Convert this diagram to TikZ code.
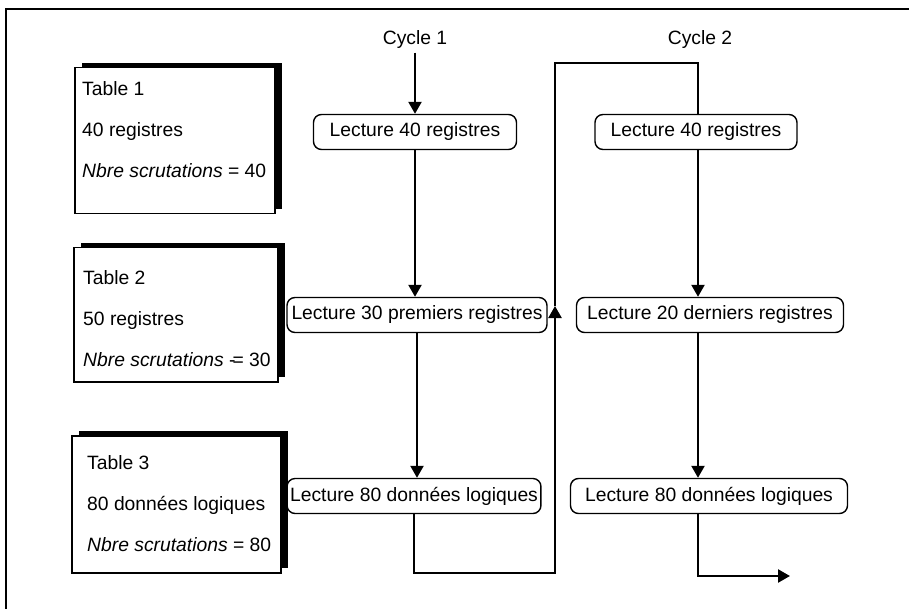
\documentclass[tikz,border=0pt]{standalone}
\usepackage{fontspec}
\setmainfont{Liberation Sans}
\usetikzlibrary{positioning,shadows,arrows.meta}
\tikzstyle{tabbox}=[draw,line width=1.5pt,fill=white,inner sep=0pt,
  drop shadow={shadow xshift=7pt,shadow yshift=5pt,fill=black,opacity=1}]
\tikzstyle{tabtext}=[align=left,inner sep=0pt]
\tikzstyle{lecture}=[draw,rounded corners=8pt,line width=1.4pt,minimum height=35pt,inner xsep=3pt]
\tikzstyle{flow}=[line width=2.3pt,-{Triangle[length=12pt,width=13pt]}]
\tikzstyle{wire}=[line width=2.3pt]

\begin{document}
\begin{tikzpicture}[x=1pt,y=-1pt,every node/.style={font=\fontsize{19.3}{41}\selectfont}]
      \useasboundingbox (0,0) rectangle (909,609);
      \draw[line width=1.8pt] (6,609) -- (6,9) -- (909,9);

      % tables on the left
      \node[tabbox,anchor=north west,minimum width=200pt,minimum height=146pt] (tab1) at (74,67) {};
      \node[tabbox,anchor=north west,minimum width=204pt,minimum height=134pt] (tab2) at (73,247) {};
      \node[tabbox,anchor=north west,minimum width=209pt,minimum height=137pt] (tab3) at (71,435) {};
      \node[tabtext,below right=14pt and 8pt of tab1.north west] (txt1) {Table 1\\40 registres\\\textit{Nbre scrutations} = 40};
      \node[tabtext,below right=23pt and 10pt of tab2.north west] (txt2) {Table 2\\50 registres\\\textit{Nbre scrutations} {-}\kern-3pt{=} 30};
      \node[tabtext,below right=20pt and 16pt of tab3.north west] (txt3) {Table 3\\80 donn\'ees logiques\\\textit{Nbre scrutations} = 80};

      % cycle 1
      \node (cyc1) at (415,40) {Cycle 1};
      \node[lecture,minimum width=203pt] (c1a) at (415,132) {Lecture 40 registres};
      \node[lecture,minimum width=260pt] (c1b) at (417,315) {Lecture 30 premiers registres};
      \node[lecture,minimum width=252pt] (c1c) at (414,496) {Lecture 80 donn\'ees logiques};

      % cycle 2
      \node (cyc2) at (700,40) {Cycle 2};
      \node[lecture,minimum width=202pt] (c2a) at (696,132) {Lecture 40 registres};
      \node[lecture,minimum width=267pt] (c2b) at (710,315) {Lecture 20 derniers registres};
      \node[lecture,minimum width=277pt] (c2c) at (709,496) {Lecture 80 donn\'ees logiques};

      \coordinate (lpB) at (555,573);
      \coordinate (lpM) at (555,306);
      \coordinate (lpC) at (555,63);
      \coordinate (lpD) at (698,63);
      \coordinate (out) at (790,576);

      \draw[flow] (cyc1.south) -- (c1a.north);
      \draw[flow] (c1a.south) -- (c1a.south |- c1b.north);
      \draw[flow] (c1b.south) -- (c1b.south |- c1c.north);
      \draw[flow] (c1c.south) |- (lpB) -- (lpM);
      \draw[wire] (lpM) -- (lpC) -- (lpD) -- (lpD |- c2a.north);
      \draw[flow] (lpD |- c2a.south) -- (lpD |- c2b.north);
      \draw[flow] (lpD |- c2b.south) -- (lpD |- c2c.north);
      \draw[flow] (lpD |- c2c.south) |- (out);
    \end{tikzpicture}
\end{document}
